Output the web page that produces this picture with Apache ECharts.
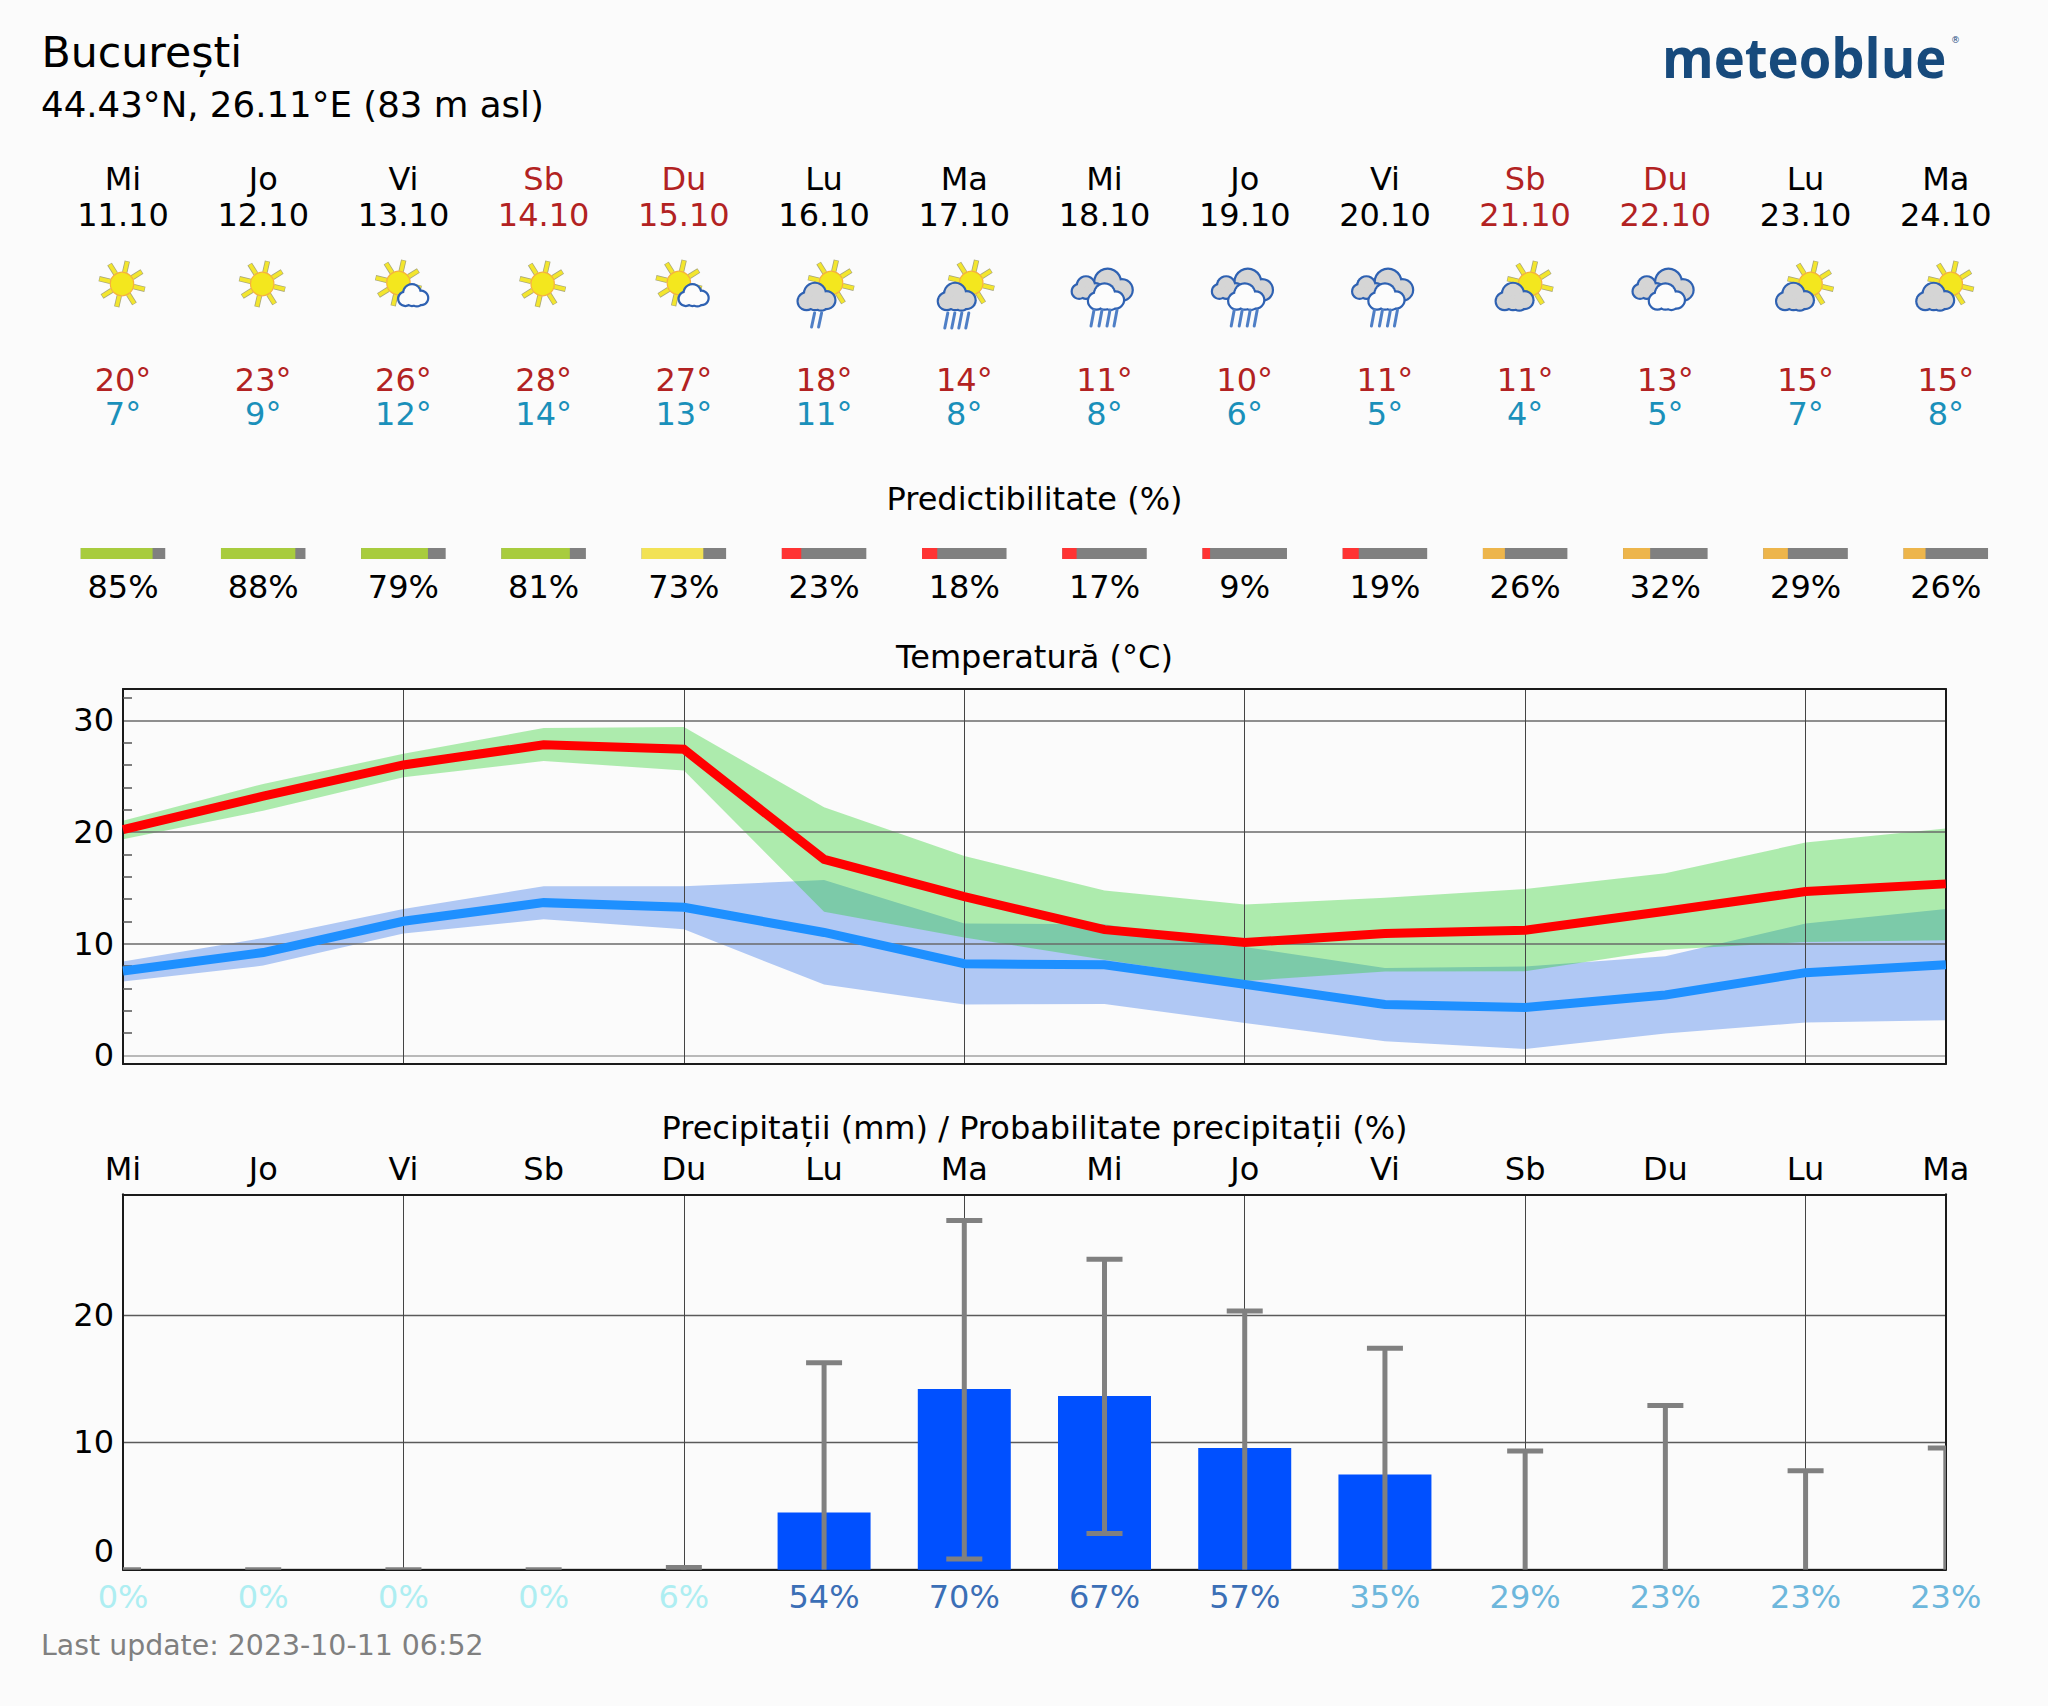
<!DOCTYPE html>
<html>
<head>
<meta charset="utf-8">
<style>html,body{margin:0;padding:0;background:#fbfbfb}#c{width:2048px;height:1706px}</style>
<script src="https://cdn.jsdelivr.net/npm/echarts@6/dist/echarts.min.js"></script>
</head>
<body>
<div id="c"></div>
<script>
const dayNames = ['Mi','Jo','Vi','Sb','Du','Lu','Ma','Mi','Jo','Vi','Sb','Du','Lu','Ma'];
const dates = ['11.10','12.10','13.10','14.10','15.10','16.10','17.10','18.10','19.10','20.10','21.10','22.10','23.10','24.10'];
const iconKinds = ['sun','sun','sunSmall','sun','sunSmall','sunRain2','sunRain4','cloudRain','cloudRain','cloudRain','sunCloud','clouds','sunCloud','sunCloud'];
const highLabels = [20,23,26,28,27,18,14,11,10,11,11,13,15,15];
const lowLabels = [7,9,12,14,13,11,8,8,6,5,4,5,7,8];
const predictability = [85,88,79,81,73,23,18,17,9,19,26,32,29,26];
const tempMax = [20.2,23.2,26.0,27.8,27.4,17.55,14.2,11.25,10.1,10.9,11.2,12.9,14.66,15.35];
const tempMin = [7.55,9.2,12.0,13.67,13.25,11.0,8.2,8.1,6.35,4.55,4.27,5.4,7.4,8.1];
const maxBandTop = [21.0,24.3,27.0,29.3,29.4,22.2,17.85,14.75,13.5,14.1,14.9,16.3,19.05,20.3];
const maxBandBottom = [19.35,21.9,24.9,26.35,25.5,12.85,10.55,8.55,6.65,7.5,7.52,9.46,10.15,10.3];
const minBandTop = [8.4,10.5,13.1,15.13,15.13,15.7,11.8,11.73,9.7,7.82,7.94,8.87,11.8,13.1];
const minBandBottom = [6.6,8.03,10.9,12.18,11.28,6.33,4.54,4.6,2.9,1.25,0.57,1.94,2.93,3.13];
const precipitation = [0,0,0,0,0,4.5,14.2,13.65,9.57,7.48,0,0,0,0];
const precipHigh = [0,0,0,0,0.17,16.26,27.45,24.4,20.33,17.4,9.33,12.9,7.78,9.57];
const precipLow = [0,0,0,0,0,0,0.85,2.85,0,0,0,0,0,0];
const precipProb = [0,0,0,0,6,54,70,67,57,35,29,23,23,23];
const tempTicks = [0,10,20,30];
const tempMinorTicks = [2,4,6,8,12,14,16,18,22,24,26,28,32];
const precipTicks = [0,10,20];

const FONT = '"DejaVu Sans"';
const FS = 32;
const RED = '#b22222', CYAN = '#1a90ba', BG = '#fbfbfb';
const weekend = i => dayNames[i] === 'Sb' || dayNames[i] === 'Du';
const idx = dayNames.map((d, i) => i);
const predictColor = v => v >= 75 ? '#a8cc3e' : v >= 50 ? '#f2e255' : v >= 25 ? '#edb54b' : '#ff3333';
const probColor = v => v >= 50 ? '#3b6fb6' : v >= 20 ? '#6db7dc' : '#aeeef2';

function rowText(text, x, y, fill) {
  return {type:'text', x, y, style:{text, fill, font:FS+'px '+FONT, align:'center', verticalAlign:'middle'}};
}
function sun(cx, cy) {
  const kids = [];
  for (let k = 0; k < 8; k++) {
    const a = (13 + 45*k) * Math.PI/180;
    kids.push({type:'line', shape:{x1:cx+12*Math.cos(a), y1:cy+12*Math.sin(a), x2:cx+23.5*Math.cos(a), y2:cy+23.5*Math.sin(a)},
      style:{stroke:'#a9a77a', lineWidth:5.4, fill:null}});
    kids.push({type:'line', shape:{x1:cx+12*Math.cos(a), y1:cy+12*Math.sin(a), x2:cx+23*Math.cos(a), y2:cy+23*Math.sin(a)},
      style:{stroke:'#f3e62e', lineWidth:3.8, fill:null}});
  }
  kids.push({type:'circle', shape:{cx, cy, r:11.7}, style:{fill:'#f3e71e', stroke:'#f6b13c', lineWidth:1.2}});
  return kids;
}
function cloud(cx, cy, s, fill) {
  const lobes = [[-11,4,7.5],[-3,-3,9.5],[8,3,7.5],[-3,5,6.5],[3,6,6]];
  const kids = [];
  lobes.forEach(l => kids.push({type:'circle', shape:{cx:cx+l[0]*s, cy:cy+l[1]*s, r:l[2]*s+2.2}, style:{fill:'#2e61b2'}}));
  lobes.forEach(l => kids.push({type:'circle', shape:{cx:cx+l[0]*s, cy:cy+l[1]*s, r:l[2]*s}, style:{fill}}));
  return kids;
}
function rain(xs, top, bottom) {
  return xs.map(x => ({type:'line', shape:{x1:x+1.5, y1:top, x2:x-1.5, y2:bottom}, style:{stroke:'#4f7fc6', lineWidth:3, fill:null, lineCap:'round'}}));
}
function iconParts(kind, x) {
  const y = 284;
  switch (kind) {
    case 'sun': return sun(x-1, y);
    case 'sunSmall': return sun(x-5, y-1).concat(cloud(x+11, y+11.5, 0.82, '#fcfcfc'));
    case 'sunRain2': return sun(x+7, y-1).concat(cloud(x-6, y+13, 1.05, '#d5d5d5'), rain([x-11,x-4], 313, 327));
    case 'sunRain4': return sun(x+7, y-1).concat(cloud(x-6, y+13, 1.05, '#d5d5d5'), rain([x-18,x-11,x-4,x+3], 313, 328));
    case 'sunCloud': return sun(x+5, y).concat(cloud(x-9, y+13, 1.05, '#d5d5d5'));
    case 'clouds': return cloud(x+7, y+2, 1.3, '#d5d5d5').concat(cloud(x-16, y+4, 0.85, '#d5d5d5'), cloud(x+3, y+13, 1.0, '#fcfcfc'));
    case 'cloudRain': return cloud(x+7, y+2, 1.3, '#d5d5d5').concat(cloud(x-16, y+4, 0.85, '#d5d5d5'), cloud(x+3, y+13, 1.0, '#fcfcfc'), rain([x-12,x-4,x+4,x+11], 310, 326));
  }
  return [];
}

function headerItem(params, api) {
  const i = params.dataIndex;
  const x = api.coord([i, 0])[0];
  const nameFill = weekend(i) ? RED : '#000';
  const pw = 84.5, ph = 11, py = 548;
  const v = predictability[i];
  return {type:'group', children:[
    rowText(dayNames[i], x, 179, nameFill),
    rowText(dates[i], x, 215, nameFill),
    rowText(highLabels[i]+'°', x, 380, RED),
    rowText(lowLabels[i]+'°', x, 414, CYAN),
    {type:'rect', shape:{x:x-pw/2, y:py, width:pw, height:ph}, style:{fill:'#808080'}},
    {type:'rect', shape:{x:x-pw/2, y:py, width:pw*v/100, height:ph}, style:{fill:predictColor(v)}},
    rowText(v+'%', x, 586.5, '#000')
  ].concat(iconParts(iconKinds[i], x))};
}

function whiskerItem(params, api) {
  const i = params.dataIndex;
  const x = api.coord([i, 0])[0];
  const top = api.coord([i, precipHigh[i]])[1];
  const low = api.coord([i, precipLow[i]])[1];
  const kids = [
    {type:'rect', shape:{x:x-2.5, y:top, width:5, height:low-top}, style:{fill:'#808080'}},
    {type:'rect', shape:{x:x-18, y:top-2.5, width:36, height:5}, style:{fill:'#808080'}}
  ];
  if (precipLow[i] > 0) kids.push({type:'rect', shape:{x:x-18, y:low-2.5, width:36, height:5}, style:{fill:'#808080'}});
  return {type:'group', children:kids};
}

const L = 123, W = 1822.8;
const axisText = {fontFamily:FONT, fontSize:FS, color:'#000'};
const LINE = {color:'#1a1a1a', width:2};
const BOX = {onZero:false, lineStyle:LINE};

const option = {
  backgroundColor: BG,
  animation: false,
  textStyle: {fontFamily:FONT},
  title: [
    {text:'București', left:41.5, top:51.5, textVerticalAlign:'middle', textStyle:{fontFamily:FONT, fontSize:42.7, fontWeight:'normal', color:'#000'}, padding:0},
    {text:'44.43°N, 26.11°E (83 m asl)', left:41, top:104, textVerticalAlign:'middle', textStyle:{fontFamily:FONT, fontSize:35.6, fontWeight:'normal', color:'#000'}, padding:0},
    {text:'Predictibilitate (%)', left:1034.5, top:499, textAlign:'center', textVerticalAlign:'middle', textStyle:{fontFamily:FONT, fontSize:FS, fontWeight:'normal', color:'#000'}, padding:0},
    {text:'Temperatură (°C)', left:1034.5, top:657, textAlign:'center', textVerticalAlign:'middle', textStyle:{fontFamily:FONT, fontSize:FS, fontWeight:'normal', color:'#000'}, padding:0},
    {text:'Precipitații (mm) / Probabilitate precipitații (%)', left:1034.5, top:1128, textAlign:'center', textVerticalAlign:'middle', textStyle:{fontFamily:FONT, fontSize:FS, fontWeight:'normal', color:'#000'}, padding:0},
    {text:'Last update: 2023-10-11 06:52', left:41, top:1645, textVerticalAlign:'middle', textStyle:{fontFamily:FONT, fontSize:28.4, fontWeight:'normal', color:'#808080'}, padding:0}
  ],
  graphic: [
    {type:'text', x:1662, y:56, scaleX:0.94, style:{text:'meteoblue', font:'700 56px "Open Sans"', fill:'#174a7c', verticalAlign:'middle'}},
    {type:'text', x:1951, y:40, style:{text:'®', font:'9px "DejaVu Sans"', fill:'#174a7c', verticalAlign:'middle'}}
  ],
  grid: [
    {left:L, width:W, top:0, height:620, show:false},
    {left:L, width:W, top:689, height:375, show:false},
    {left:L, width:W, top:1194.3, height:375.4, show:false}
  ],
  xAxis: [
    {gridIndex:0, type:'category', boundaryGap:false, data:idx, show:false},
    {gridIndex:1, type:'category', boundaryGap:false, data:idx, position:'bottom', z:1,
     axisLine:BOX, axisTick:{show:false}, axisLabel:{show:false},
     splitLine:{show:true, interval:(i)=>i>0&&i<13&&i%2===0, lineStyle:{color:'#444', width:1}}},
    {gridIndex:1, type:'category', boundaryGap:false, data:idx, position:'top', z:1,
     axisLine:BOX, axisTick:{show:false}, axisLabel:{show:false}, splitLine:{show:false}},
    {gridIndex:2, type:'category', boundaryGap:false, data:dayNames, position:'top', z:1,
     axisLine:BOX, axisTick:{show:false},
     axisLabel:Object.assign({interval:0, margin:9}, axisText),
     splitLine:{show:true, interval:(i)=>i>0&&i<13&&i%2===0, lineStyle:{color:'#444', width:1}}},
    {gridIndex:2, type:'category', boundaryGap:false, data:precipProb.map(v=>v+'%'), position:'bottom', z:1,
     axisLine:BOX, axisTick:{show:false}, splitLine:{show:false},
     axisLabel:{interval:0, margin:11, fontFamily:FONT, fontSize:FS, color:(v,i)=>probColor(precipProb[i])}}
  ],
  yAxis: [
    {gridIndex:0, type:'value', min:0, max:1, show:false},
    {gridIndex:1, type:'value', min:-0.78, max:32.8, position:'left', z:1,
     axisLine:{show:true, onZero:false, lineStyle:LINE}, axisTick:{show:false, customValues:tempTicks},
     axisLabel:Object.assign({margin:9, customValues:tempTicks}, axisText),
     splitLine:{show:true, lineStyle:{color:['#a3a3a3','#6a6a6a','#6a6a6a','#6a6a6a'], width:1.6}}},
    {gridIndex:1, type:'value', min:-0.78, max:32.8, position:'left', z:1,
     axisLine:{show:false}, axisLabel:{show:false}, splitLine:{show:false},
     axisTick:{show:true, inside:true, length:9, customValues:tempMinorTicks, lineStyle:{color:'#555', width:1.5}}},
    {gridIndex:1, type:'value', min:-0.78, max:32.8, position:'right', z:1,
     axisLine:{show:true, onZero:false, lineStyle:LINE}, axisLabel:{show:false}, axisTick:{show:false}, splitLine:{show:false}},
    {gridIndex:2, type:'value', min:0, max:29.5, position:'left', z:1,
     axisLine:{show:true, onZero:false, lineStyle:LINE}, axisTick:{show:false, customValues:precipTicks},
     axisLabel:Object.assign({margin:9, customValues:precipTicks,
       formatter:v=>v===0?'{z|0}':String(v), rich:{z:{fontFamily:FONT, fontSize:FS, color:'#000', padding:[0,0,38,0]}}}, axisText),
     splitLine:{show:true, lineStyle:{color:'#5a5a5a', width:1.3}}},
    {gridIndex:2, type:'value', min:0, max:29.5, position:'right', z:1,
     axisLine:{show:true, onZero:false, lineStyle:LINE}, axisLabel:{show:false}, axisTick:{show:false}, splitLine:{show:false}}
  ],
  series: [
    {type:'custom', name:'header', coordinateSystem:'cartesian2d', xAxisIndex:0, yAxisIndex:0, data:idx.map(i=>[i,0]), renderItem:headerItem, silent:true},
    {type:'line', name:'minLow', xAxisIndex:1, yAxisIndex:1, stack:'minBand', data:minBandBottom, symbol:'none', lineStyle:{width:0}, z:0, silent:true},
    {type:'line', name:'minBand', xAxisIndex:1, yAxisIndex:1, stack:'minBand', data:minBandTop.map((v,i)=>+(v-minBandBottom[i]).toFixed(3)), symbol:'none', lineStyle:{width:0}, areaStyle:{color:'#b0c8f4', opacity:1}, z:0, silent:true},
    {type:'line', name:'maxLow', xAxisIndex:1, yAxisIndex:1, stack:'maxBand', data:maxBandBottom, symbol:'none', lineStyle:{width:0}, z:0, silent:true},
    {type:'line', name:'maxBand', xAxisIndex:1, yAxisIndex:1, stack:'maxBand', data:maxBandTop.map((v,i)=>+(v-maxBandBottom[i]).toFixed(3)), symbol:'none', lineStyle:{width:0}, areaStyle:{color:'rgb(28,205,28)', opacity:0.35}, z:0, silent:true},
    {type:'line', name:'tempMin', xAxisIndex:1, yAxisIndex:1, data:tempMin, symbol:'none', lineStyle:{color:'#1e90ff', width:9, join:'miter'}, z:3, silent:true},
    {type:'line', name:'tempMax', xAxisIndex:1, yAxisIndex:1, data:tempMax, symbol:'none', lineStyle:{color:'#ff0000', width:9, join:'miter'}, z:3, silent:true},
    {type:'bar', name:'precipitation', xAxisIndex:3, yAxisIndex:4, data:precipitation, barWidth:93, itemStyle:{color:'#0050ff'}, z:2, silent:true},
    {type:'custom', name:'range', coordinateSystem:'cartesian2d', xAxisIndex:3, yAxisIndex:4, clip:true, data:idx.map(i=>[i,precipHigh[i]]), renderItem:whiskerItem, z:3, silent:true}
  ]
};
const chart = echarts.init(document.getElementById('c'), null, {renderer:'svg', width:2048, height:1706});
chart.setOption(option);
</script>
</body>
</html>
